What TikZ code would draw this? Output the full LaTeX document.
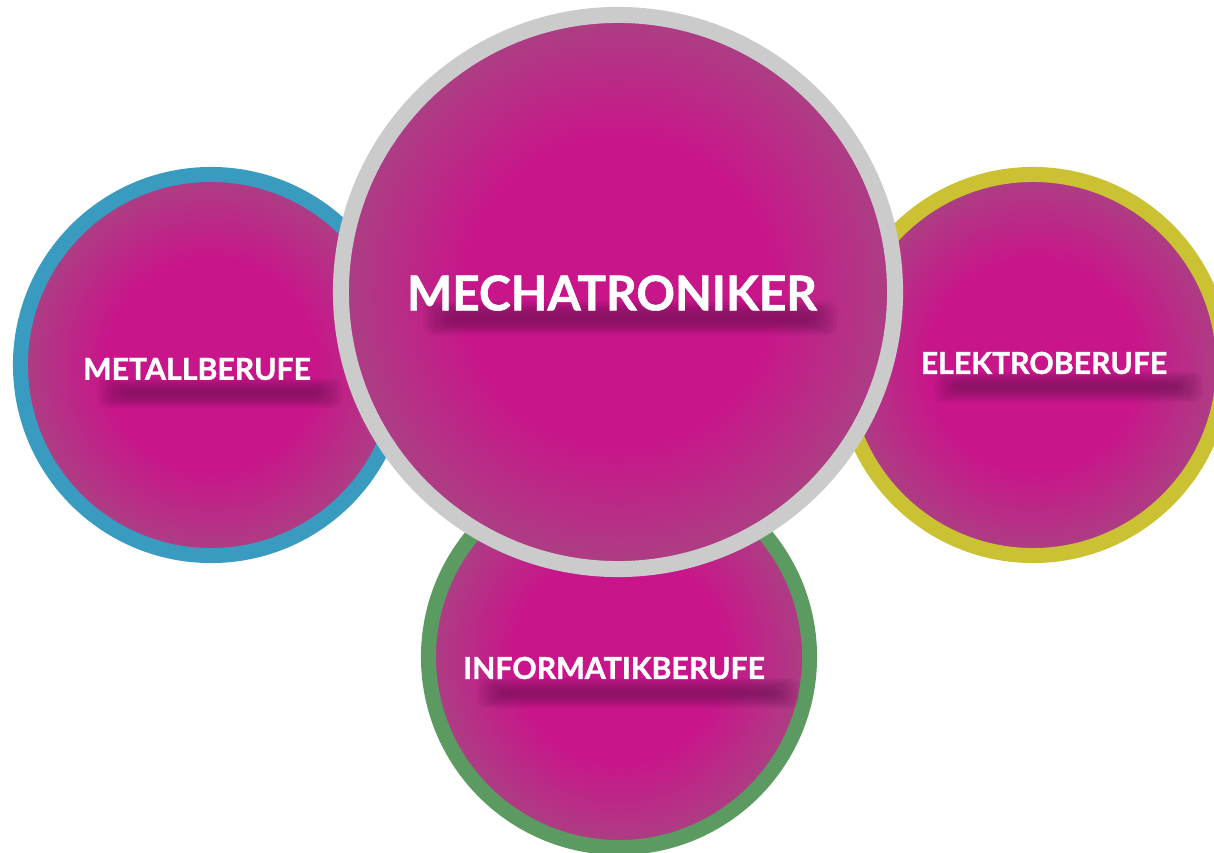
\documentclass[tikz,border=0pt]{standalone}
\usepackage{fontspec}
\setmainfont{Lato}[BoldFeatures={FakeBold=1.2}]
\usetikzlibrary{positioning}

\definecolor{pinkc}{HTML}{C8168A}
\definecolor{pinkedge}{HTML}{AE3C84}
\definecolor{ringblue}{HTML}{3A9BC1}
\definecolor{ringyellow}{HTML}{CAC232}
\definecolor{ringgreen}{HTML}{5B9B61}
\definecolor{ringgrey}{HTML}{CBCBCB}
\definecolor{shadowc}{HTML}{661250}

\pgfdeclareradialshading{bubbleshade}{\pgfpoint{0bp}{0bp}}{%
  color(0bp)=(pinkc); color(14bp)=(pinkc); color(24bp)=(pinkedge); color(50bp)=(pinkedge)}

% soft shadow band under a label: centre, half width, half height
\newcommand{\glowband}[3]{%
  \foreach \k in {0,...,7}
    \fill[glow, shift={#1}] (-#2+3.5*\k,-#3+1.8*\k) rectangle (#2-3.5*\k,#3-1.8*\k);}

\begin{document}
\begin{tikzpicture}[x=0.025cm, y=-0.025cm,
    bubble/.style = {circle, shading=bubbleshade, inner sep=0pt, minimum size=9.525cm, line width=0.375cm},
    bigbubble/.style = {bubble, minimum size=13.85cm, line width=0.4cm, draw=ringgrey},
    lbl/.style = {text=white, inner sep=0pt, font=\fontsize{21.5}{24}\selectfont\bfseries},
    biglbl/.style = {lbl, font=\fontsize{34}{40}\selectfont\bfseries},
    glow/.style = {shadowc, opacity=0.1, rounded corners=6pt}]
  \useasboundingbox (0,0) rectangle (1214,853);

  \node[bubble, draw=ringblue] (metall) at (211,365) {};
  \node[bubble, draw=ringyellow] (elektro) at (1033,365) {};
  \node[bubble, draw=ringgreen] (informatik) at (619,657) {};
  \node[bigbubble] (mecha) at (618,292) {};

  \glowband{(220,393)}{122}{15}
  \glowband{(1068,387)}{134}{15}
  \glowband{(638,693)}{161}{15}
  \glowband{(630,318)}{207}{17}

  \node[lbl] (metall-text) at (197,369) {METALLBERUFE};
  \node[lbl] (elektro-text) at (1044,363) {ELEKTROBERUFE};
  \node[lbl] (informatik-text) at (614,668) {INFORMATIKBERUFE};
  \node[biglbl] (mecha-text) at (612,293) {MECHATRONIKER};
\end{tikzpicture}
\end{document}
